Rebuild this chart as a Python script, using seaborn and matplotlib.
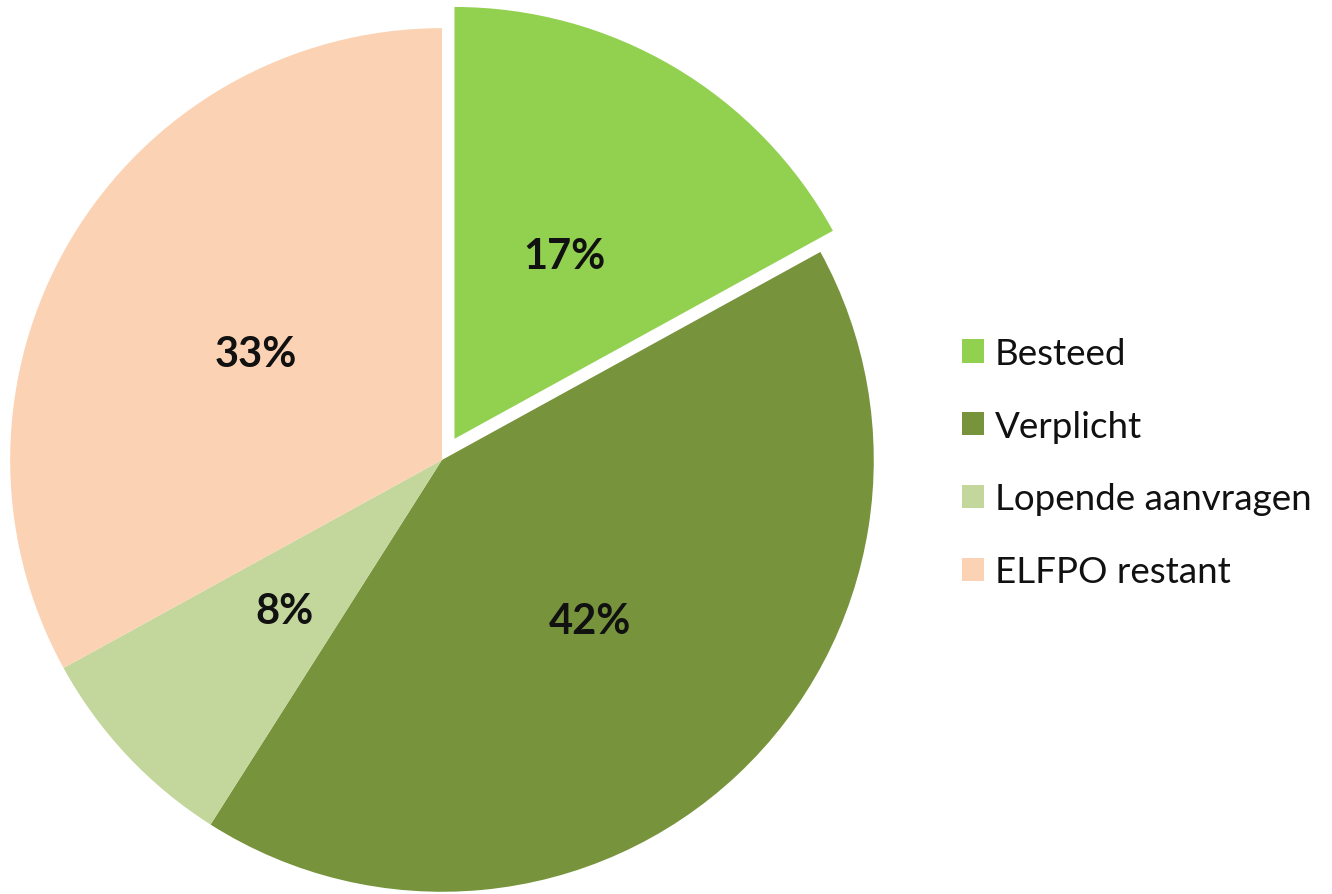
"""Aandeel ELFPO-budget - pie chart"""

import matplotlib
matplotlib.use('Agg')
import matplotlib.pyplot as plt
from matplotlib.patches import Patch
import seaborn as sns

categories = ['Besteed', 'Verplicht', 'Lopende aanvragen', 'ELFPO restant']
shares = [17, 42, 8, 33]
colors = ['#92D050', '#77933C', '#C3D69B', '#FBD3B4']
explode = [0.057, 0, 0, 0]

sns.set_theme(style='white')
plt.rcParams['font.family'] = ['Lato', 'DejaVu Sans']


def main():
    fig = plt.figure(figsize=(13.32, 8.95), dpi=100)
    # pie centre at (442, 461) px, radius 432 px; limits +/-1.1
    ax = fig.add_axes([-0.0248, -0.0458, 0.7132, 1.0615])

    wedges, texts, autotexts = ax.pie(
        shares, colors=colors, explode=explode, startangle=90,
        counterclock=False, autopct='%1.0f%%', pctdistance=0.5,
        wedgeprops={'linewidth': 0, 'clip_on': False},
        textprops={'fontsize': 30, 'fontweight': 'bold', 'color': '#111111'},
    )
    for t in autotexts:
        t.set_va('center_baseline')
    ax.set_xlim(-1.1, 1.1)
    ax.set_ylim(-1.1, 1.1)
    ax.set_aspect('equal')
    ax.axis('off')

    handles = [Patch(facecolor=c, edgecolor='none') for c in colors]
    fig.legend(handles, categories, loc='center left',
               bbox_to_anchor=(0.7222, 0.482), frameon=False,
               fontsize=26.5, handlelength=0.6, handleheight=0.6,
               handletextpad=0.3, labelspacing=1.08,
               borderpad=0, borderaxespad=0, labelcolor='#111111')

    fig.savefig('out.png', dpi=100, facecolor='white')


if __name__ == "__main__":
    main()
